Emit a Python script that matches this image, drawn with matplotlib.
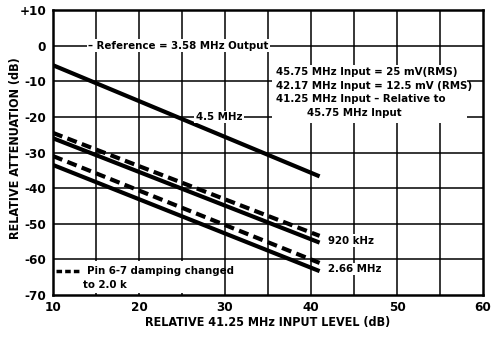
import matplotlib
matplotlib.use("Agg")
import matplotlib.pyplot as plt
from matplotlib.patches import Rectangle
from matplotlib import font_manager as fm

# pick a narrow face if available
_entries = fm.fontManager.ttflist
_names = {f.name for f in _entries}
if 'Liberation Sans Narrow' in _names:
    FAM, STRETCH, K = 'Liberation Sans Narrow', 'normal', 1.18
elif any(f.name == 'DejaVu Sans' and str(f.stretch) == 'condensed' for f in _entries):
    FAM, STRETCH, K = 'DejaVu Sans', 'condensed', 1.05
else:
    FAM, STRETCH, K = 'Liberation Sans', 'normal', 1.0

plt.rcParams['font.family'] = [FAM, 'DejaVu Sans']
plt.rcParams['font.weight'] = 'bold'
plt.rcParams['font.stretch'] = STRETCH

# data
x_range = [10, 41]
line_45 = [-5.5, -36.7]
line_920_solid = [-26.0, -55.3]
line_920_dashed = [-24.5, -53.4]
line_266_solid = [-33.5, -63.3]
line_266_dashed = [-31.0, -61.0]

x_ticks = [10, 20, 30, 40, 50, 60]
y_ticks = [10, 0, -10, -20, -30, -40, -50, -60, -70]
y_tick_labels = ['+10', '0', '-10', '-20', '-30', '-40', '-50', '-60', '-70']

fig = plt.figure(figsize=(4.96, 3.37), dpi=100)
ax = fig.add_axes([53/496, 1-295/337, 430/496, 285/337])
ax.set_xlim(10, 60)
ax.set_ylim(-70, 10)

# grid
for gx in range(15, 60, 5):
    ax.axvline(gx, color='black', lw=1.1, zorder=1)
for gy in range(-60, 10, 10):
    ax.axhline(gy, color='black', lw=1.1, zorder=1)

for s in ax.spines.values():
    s.set_linewidth(1.8)

tick_fs = 9.2 * K
lab_fs = 8.6 * K
tfs = 7.8 * K

ax.set_xticks(x_ticks)
ax.set_xticklabels([str(v) for v in x_ticks], fontsize=tick_fs, fontweight='bold')
ax.set_yticks(y_ticks)
ax.set_yticklabels(y_tick_labels, fontsize=tick_fs, fontweight='bold')
ax.tick_params(length=0, pad=5)
ax.tick_params(axis='x', pad=4)

ax.set_xlabel('RELATIVE 41.25 MHz INPUT LEVEL (dB)', fontsize=lab_fs, fontweight='bold')
ax.xaxis.set_label_coords(0.5, -0.098)
ax.xaxis.label.set_va('center')
ax.set_ylabel('RELATIVE ATTENUATION (dB)', fontsize=lab_fs, fontweight='bold')
ax.yaxis.set_label_coords(-0.072, 0.516)

lw = 3.0
dash = (2.4, 1.3)
ax.plot(x_range, line_45, color='black', lw=lw, solid_capstyle='butt', zorder=3)
ax.plot(x_range, line_920_solid, color='black', lw=lw, solid_capstyle='butt', zorder=3)
ax.plot(x_range, line_266_solid, color='black', lw=lw, solid_capstyle='butt', zorder=3)
ax.plot(x_range, line_920_dashed, color='black', lw=lw, dashes=dash, zorder=3)
ax.plot(x_range, line_266_dashed, color='black', lw=lw, dashes=dash, zorder=3)

bb = dict(facecolor='white', edgecolor='none', pad=1.0)
ax.text(14.1, 0, '\u2013 Reference = 3.58 MHz Output', fontsize=tfs, fontweight='bold',
        va='center', ha='left', bbox=bb, zorder=4)
ax.text(26.6, -20, '4.5 MHz', fontsize=tfs, fontweight='bold', va='center', ha='left',
        bbox=bb, zorder=4)
ax.text(42.0, -54.8, '920 kHz', fontsize=tfs, fontweight='bold', va='center', ha='left',
        bbox=bb, zorder=4)
ax.text(42.0, -62.7, '2.66 MHz', fontsize=tfs, fontweight='bold', va='center', ha='left',
        bbox=bb, zorder=4)

# annotation block
ax.add_patch(Rectangle((35.5, -21.6), 22.6, 16.3, facecolor='white', edgecolor='none', zorder=2))
ann_lines = ['45.75 MHz Input = 25 mV(RMS)',
             '42.17 MHz Input = 12.5 mV (RMS)',
             '41.25 MHz Input \u2013 Relative to']
for i, t in enumerate(ann_lines):
    ax.text(35.9, -7.3 - 3.9*i, t, fontsize=tfs, fontweight='bold', va='center', ha='left', zorder=4)
ax.text(39.5, -7.3 - 3.9*3, '45.75 MHz Input', fontsize=tfs, fontweight='bold', va='center',
        ha='left', zorder=4)

# legend block
ax.add_patch(Rectangle((10, -69.4), 19.4, 9.0, facecolor='white', edgecolor='none', zorder=2))
ax.plot([10.35, 13.1], [-63.3, -63.3], color='black', lw=2.5, dashes=(1.6, 0.9), zorder=4)
ax.text(13.95, -63.3, 'Pin 6-7 damping changed', fontsize=tfs, fontweight='bold',
        va='center', ha='left', zorder=4)
ax.text(13.5, -67.2, 'to 2.0 k', fontsize=tfs, fontweight='bold', va='center', ha='left', zorder=4)

fig.savefig('out.png', dpi=100)
